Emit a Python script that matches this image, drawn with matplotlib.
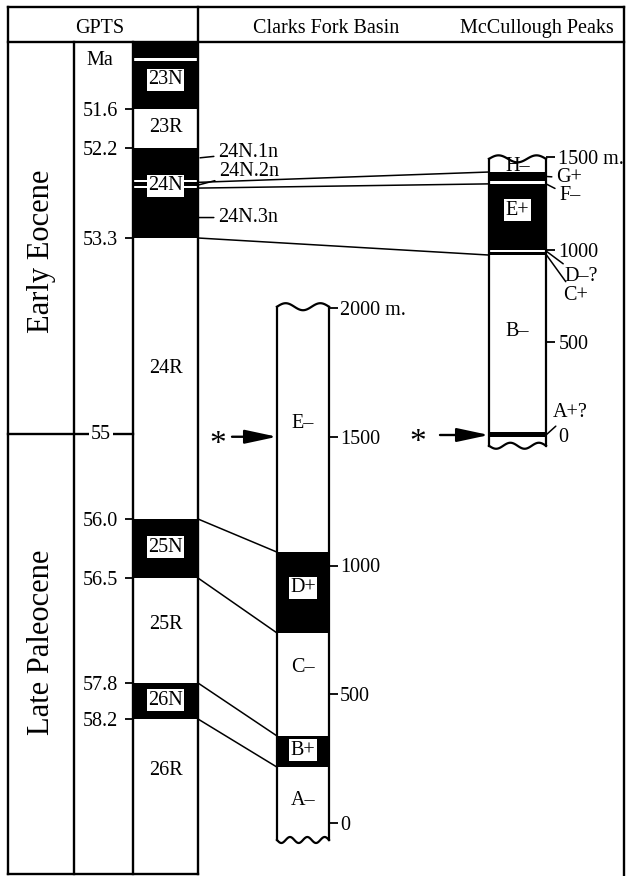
import numpy as np
import matplotlib
matplotlib.use('Agg')
import matplotlib.pyplot as plt
from matplotlib.patches import ConnectionPatch
from matplotlib.ticker import NullLocator

plt.rcParams['font.family'] = 'serif'
plt.rcParams['font.serif'] = ['Liberation Serif', 'DejaVu Serif']

W, H = 627, 876
FS = 14.5

# ---------------- data ----------------
# GPTS, ages in Ma
gpts_ticks = [51.6, 52.2, 53.3, 55.0, 56.0, 56.5, 57.8, 58.2]
gpts_tick_labels = ['51.6', '52.2', '53.3', '', '56.0', '56.5', '57.8', '58.2']
gpts_top, gpts_bottom = 50.57, 59.9
gpts_normal = [(50.57, 50.82), (50.86, 51.6), (52.2, 52.59), (52.62, 52.66),
               (52.69, 53.3), (56.0, 56.5), (57.8, 58.2)]
chron_names = ['23N', '23R', '24N', '24R', '25N', '25R', '26N', '26R']
chron_label_age = [51.15, 51.89, 52.66, 54.43, 56.24, 57.08, 57.99, 58.77]
subchron_names = ['24N.1n', '24N.2n', '24N.3n']
epoch_boundary = 55.0

# Clarks Fork Basin, stratigraphic level in m
cf_zones = ['A–', 'B+', 'C–', 'D+', 'E–']
cf_bounds = [-66, 217, 338, 738, 1052, 2005]
cf_ticks = [0, 500, 1000, 1500, 2000]
cf_tick_labels = ['0', '500', '1000', '1500', '2000 m.']
cf_label_m = [89, 283, 602, 913, 1553]

# McCullough Peaks, stratigraphic level in m
mp_zones = ['A+?', 'B–', 'C+', 'D–?', 'E+', 'F–', 'G+', 'H–']
mp_bounds = [-11, 16, 971, 988, 998, 1355, 1371, 1419, 1490]
mp_base = -58
mp_ticks = [0, 500, 1000, 1500]
mp_tick_labels = ['0', '500', '1000', '1500 m.']

# correlations (age Ma -> level m)
ties_cf = [(56.0, 1052), (56.5, 738), (57.8, 338), (58.2, 217)]
ties_mp = [(52.62, 1419), (52.69, 1355), (53.3, 971)]
pe_level_cf, pe_level_mp = 1500, 0

# ---------------- layout ----------------
tick_rows = [109, 148, 238, 434, 519, 578, 683, 719]   # rows of the GPTS ticks
CF_X = (277, 329)
MP_X = (489, 546)
G_X = (133, 198)


def _pw(x, xp, fp):
    x = np.asarray(x, dtype = float)
    xp = np.asarray(xp, dtype = float)
    fp = np.asarray(fp, dtype = float)
    y = np.interp(x, xp, fp)
    s0 = (fp[1] - fp[0]) / (xp[1] - xp[0])
    s1 = (fp[-1] - fp[-2]) / (xp[-1] - xp[-2])
    y = np.where(x < xp[0], fp[0] + (x - xp[0]) * s0, y)
    y = np.where(x > xp[-1], fp[-1] + (x - xp[-1]) * s1, y)
    return y


def age_fwd(a):
    return _pw(a, gpts_ticks, tick_rows)


def age_inv(r):
    return _pw(r, tick_rows, gpts_ticks)


fig = plt.figure(figsize = (W / 100, H / 100), dpi = 100)

base = fig.add_axes([0, 0, 1, 1], label = 'base')
base.set_xlim(0, W)
base.set_ylim(H, 0)
base.axis('off')


def rule(xs, ys, lw = 1.7):
    base.plot(xs, ys, color = 'k', lw = lw, solid_capstyle = 'projecting')


rule([8, 624], [7, 7])
rule([8, 624], [42, 42])
rule([8, 8], [7, 874])
rule([624, 624], [7, 876])
rule([8, 198], [874, 874])
rule([74, 74], [42, 874])
rule([133, 133], [42, 874])
rule([198, 198], [7, 874])

base.text(100, 33, 'GPTS', ha = 'center', va = 'baseline', fontsize = FS)
base.text(326, 33, 'Clarks Fork Basin', ha = 'center', va = 'baseline', fontsize = FS)
base.text(537, 33, 'McCullough Peaks', ha = 'center', va = 'baseline', fontsize = FS)
base.text(100, 65, 'Ma', ha = 'center', va = 'baseline', fontsize = FS)
base.text(42, 251, 'Early Eocene', rotation = 90, ha = 'center', va = 'center', fontsize = 22)
base.text(42, 642, 'Late Paleocene', rotation = 90, ha = 'center', va = 'center', fontsize = 22)


def overlay(label):
    ax = fig.add_axes([0, 0, 1, 1], label = label)
    ax.patch.set_visible(False)
    ax.set_xlim(0, W)
    ax.xaxis.set_visible(False)
    for s in ax.spines.values():
        s.set_visible(False)
    return ax


# ---------------- GPTS ----------------
ag = overlay('gpts')
ag.set_yscale('function', functions = (age_fwd, age_inv))
ag.set_ylim(float(age_inv(H)), float(age_inv(0)))
for lo, hi in gpts_normal:
    ag.fill_between(list(G_X), lo, hi, color = 'k', lw = 0)
ag.spines['left'].set_position(('data', G_X[0]))
ag.yaxis.tick_left()
ag.set_yticks(gpts_ticks, gpts_tick_labels)
ag.yaxis.set_minor_locator(NullLocator())
ag.tick_params(axis = 'y', length = 5.8, width = 1.3, pad = 5, labelsize = FS)
ag.yaxis.get_major_ticks()[gpts_ticks.index(epoch_boundary)].tick1line.set_visible(False)

ag.plot([8, G_X[0]], [epoch_boundary] * 2, color = 'k', lw = 1.7)
ag.text(101, epoch_boundary, '55', ha = 'center', va = 'center', fontsize = FS,
        bbox = dict(fc = 'white', ec = 'none', pad = 1.5))

for name, a in zip(chron_names, chron_label_age):
    box = dict(boxstyle = 'square,pad=0.08', fc = 'white', ec = 'none') if name.endswith('N') else None
    ag.text(sum(G_X) / 2, a, name, ha = 'center', va = 'center', fontsize = FS, bbox = box)

sub_xy = [(200, 52.32), (199, 52.65), (199, 53.05)]
sub_txt = [(218, 52.26), (219, 52.49), (218, 53.05)]
for name, xy, xt in zip(subchron_names, sub_xy, sub_txt):
    ag.annotate(name, xy = xy, xytext = xt, ha = 'left', va = 'center', fontsize = FS,
                arrowprops = dict(arrowstyle = '-', color = 'k', lw = 1.1, shrinkA = 1, shrinkB = 0))


# ---------------- stratigraphic columns ----------------
def column(label, zero_row, ppm, xr, zones, bounds, bottom, ticks, tick_labels, n_top, n_bot, tlen, tpad):
    ax = overlay(label)
    ax.set_ylim((zero_row - H) / ppm, zero_row / ppm)
    for name, lo, hi in zip(zones, bounds[:-1], bounds[1:]):
        if '+' in name:
            ax.fill_between(list(xr), lo, hi, color = 'k', lw = 0)
    t = np.linspace(0, 1, 120)
    xs = xr[0] + (xr[1] - xr[0]) * t
    top = bounds[-1] + 3.5 / ppm * np.sin(2 * np.pi * n_top * t)
    bot = bottom - 3.0 / ppm * np.sin(2 * np.pi * n_bot * t)
    kw = dict(color = 'k', lw = 1.6)
    ax.plot(xs, top, **kw)
    ax.plot(xs, bot, **kw)
    ax.plot([xr[0], xr[0]], [bot[0], top[0]], **kw)
    ax.plot([xr[1], xr[1]], [bot[-1], top[-1]], **kw)
    ax.spines['right'].set_position(('data', xr[1]))
    ax.yaxis.tick_right()
    ax.set_yticks(ticks, tick_labels)
    ax.tick_params(axis = 'y', length = tlen, width = 1.3, pad = tpad, labelsize = FS)
    return ax


cf_ppm = (823 - 308) / 2000
mp_ppm = (435 - 157) / 1500

acf = column('cf', 823, cf_ppm, CF_X, cf_zones, cf_bounds, cf_bounds[0],
             cf_ticks, cf_tick_labels, 1.5, 3, 6.5, 1.5)
amp = column('mp', 435, mp_ppm, MP_X, mp_zones, mp_bounds, mp_base,
             mp_ticks, mp_tick_labels, 1.5, 2, 6.5, 2.5)
amp.yaxis.get_major_ticks()[0].tick2line.set_visible(False)

for name, m in zip(cf_zones, cf_label_m):
    box = dict(boxstyle = 'square,pad=0.08', fc = 'white', ec = 'none') if '+' in name else None
    acf.text(sum(CF_X) / 2, m, name, ha = 'center', va = 'center', fontsize = FS, bbox = box)

mp_inside = {'B–': 556, 'E+': 1214, 'H–': 1450}
for name, m in mp_inside.items():
    box = dict(boxstyle = 'square,pad=0.08', fc = 'white', ec = 'none') if '+' in name else None
    amp.text(sum(MP_X) / 2, m, name, ha = 'center', va = 'center', fontsize = FS, bbox = box)

mp_outside = {'G+': (1395, 556, 1387), 'F–': (1355, 559, 1290),
              'D–?': (993, 564, 853), 'C+': (975, 563, 755), 'A+?': (0, 553, 119)}
for name, (m, xt, mt) in mp_outside.items():
    amp.annotate(name, xy = (MP_X[1], m), xytext = (xt, mt), ha = 'left', va = 'center', fontsize = FS,
                 arrowprops = dict(arrowstyle = '-', color = 'k', lw = 1.1, shrinkA = 1, shrinkB = 0))

# Paleocene / Eocene boundary arrows
for ax, x, m, length, star in [(acf, CF_X[0], pe_level_cf, 45, 59), (amp, MP_X[0], pe_level_mp, 49, 71)]:
    ax.annotate('', xy = (x, m), xytext = (x - length, m),
                arrowprops = dict(arrowstyle = '-|>,head_length=1.4,head_width=0.3', color = 'k',
                                  lw = 1.7, mutation_scale = 14, shrinkA = 0, shrinkB = 0))
    ax.annotate('*', xy = (x - star, m), xytext = (0, -8), textcoords = 'offset pixels',
                ha = 'center', va = 'center', fontsize = 24)

# correlation lines
for a, m in ties_cf:
    fig.add_artist(ConnectionPatch((G_X[1], a), (CF_X[0], m), coordsA = ag.transData,
                                   coordsB = acf.transData, color = 'k', lw = 1.1))
for a, m in ties_mp:
    fig.add_artist(ConnectionPatch((G_X[1], a), (MP_X[0], m), coordsA = ag.transData,
                                   coordsB = amp.transData, color = 'k', lw = 1.1))

fig.savefig('out.png', dpi = 100)
